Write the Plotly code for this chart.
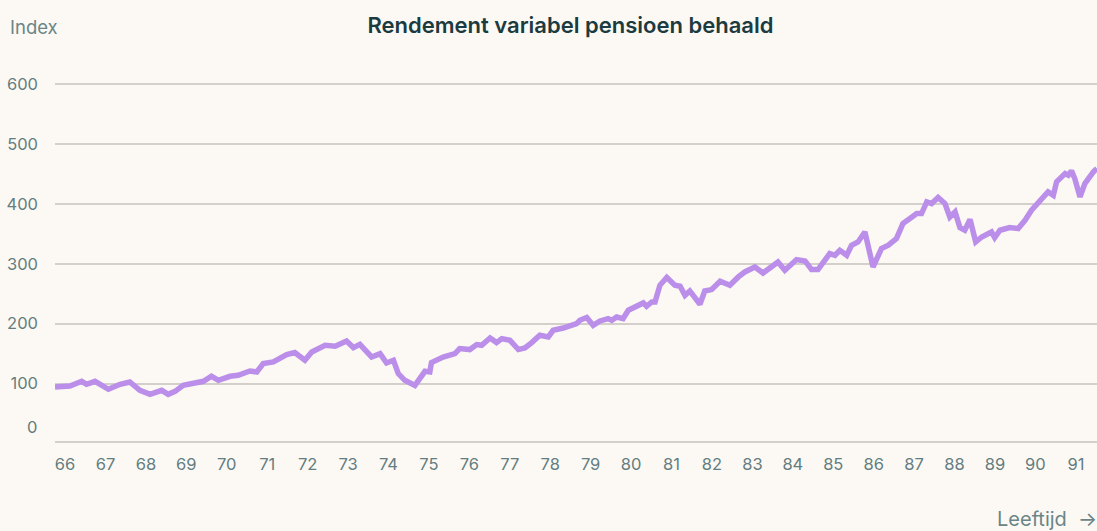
import plotly.graph_objects as go

# Age (years) and index value
age = [66.00, 66.37, 66.66, 66.78, 66.99, 67.32, 67.61, 67.85, 68.10, 68.35,
       68.64, 68.80, 68.97, 69.17, 69.67, 69.87, 70.04, 70.33, 70.53, 70.82,
       70.99, 71.15, 71.40, 71.73, 71.93, 72.18, 72.35, 72.68, 72.93, 73.21,
       73.38, 73.54, 73.83, 74.04, 74.20, 74.37, 74.49, 74.65, 74.90, 75.15,
       75.27, 75.31, 75.60, 75.89, 76.01, 76.26, 76.43, 76.55, 76.76, 76.92,
       77.05, 77.25, 77.46, 77.62, 77.79, 77.99, 78.20, 78.32, 78.57, 78.90,
       78.98, 79.15, 79.31, 79.48, 79.68, 79.77, 79.89, 80.05, 80.18, 80.38,
       80.55, 80.63, 80.76, 80.84, 80.96, 81.13, 81.33, 81.46, 81.58, 81.70,
       81.95, 82.07, 82.24, 82.45, 82.69, 82.90, 83.06, 83.31, 83.51, 83.88,
       84.05, 84.34, 84.55, 84.71, 84.87, 85.16, 85.29, 85.41, 85.58, 85.70,
       85.86, 86.03, 86.23, 86.44, 86.61, 86.81, 86.97, 87.22, 87.31, 87.43,
       87.56, 87.68, 87.84, 88.01, 88.13, 88.26, 88.38, 88.50, 88.63, 88.77,
       88.92, 89.16, 89.24, 89.37, 89.61, 89.82, 89.99, 90.15, 90.56, 90.69,
       90.77, 90.98, 91.06, 91.14, 91.22, 91.35, 91.47, 91.68, 91.77]

index_value = [94.3, 96.0, 103.8, 98.8, 103.8, 90.5, 98.8, 102.7, 88.8, 82.1,
               88.8, 82.1, 87.1, 97.2, 103.8, 112.2, 105.5, 112.2, 113.9, 121.0,
               119.4, 133.4, 136.1, 148.4, 151.8, 138.9, 152.8, 163.9, 162.3, 171.1,
               160.1, 165.6, 144.4, 150.1, 134.4, 138.9, 116.7, 105.5, 97.0, 120.5,
               119.4, 135.1, 144.4, 150.1, 158.4, 156.8, 165.1, 163.9, 176.1, 168.4,
               175.1, 172.3, 156.8, 159.4, 168.4, 180.6, 177.8, 189.0, 192.8, 200.2,
               205.7, 210.2, 197.3, 204.5, 208.5, 205.7, 211.2, 208.5, 222.4, 229.0,
               234.6, 229.0, 236.2, 236.2, 264.1, 277.0, 264.1, 262.4, 247.4, 254.6,
               232.4, 254.6, 256.9, 270.8, 264.1, 278.0, 286.3, 294.6, 284.6, 303.0,
               289.1, 307.0, 304.7, 290.3, 290.3, 317.0, 314.2, 322.5, 314.2, 330.9,
               336.4, 353.1, 294.6, 325.4, 330.9, 342.1, 367.1, 379.3, 383.8, 383.8,
               403.2, 400.5, 410.5, 400.5, 378.1, 386.5, 360.4, 355.9, 373.8, 336.4,
               344.7, 353.1, 343.7, 355.9, 360.4, 358.8, 372.6, 389.3, 419.9, 414.3,
               436.6, 450.6, 447.8, 455.0, 442.2, 411.5, 433.9, 453.3, 458.9]

x_ticks = list(range(66, 92))
y_ticks = [100, 200, 300, 400, 500, 600]
y_tick_labels = ["100", "200", "300", "400", "500", "600"]

TITLE = "Rendement variabel pensioen behaald"
Y_TITLE = "Index"
X_TITLE = "Leeftijd&nbsp;&nbsp;\u2192"

BG = "#fcf9f4"
LINE = "#bb8eea"
GRID = "#d3d0cb"
TICK = "#637d80"
FONT = "Inter"

fig = go.Figure()
fig.add_trace(go.Scatter(
    x=age, y=index_value, mode="lines",
    line=dict(color=LINE, width=5.5, shape="linear"),
    hoverinfo="skip", showlegend=False,
))

fig.update_layout(
    width=1097, height=531,
    margin=dict(l=55, r=0, t=78, b=90),
    paper_bgcolor=BG, plot_bgcolor=BG,
    font=dict(family=FONT, color=TICK, size=16),
    title=dict(text=TITLE, x=0.52, xanchor="center", y=0.953, yanchor="middle",
               font=dict(family=FONT, size=22, color="#1c3b40", weight=600)),
    xaxis=dict(range=[66, 91.77], tickvals=x_ticks, ticktext=[str(v) for v in x_ticks],
               showgrid=False, zeroline=False, showline=True, linecolor=GRID, linewidth=2,
               ticks="", ticklabelshift=10, ticklabelstandoff=7,
               tickfont=dict(family=FONT, size=16.5, color=TICK)),
    yaxis=dict(range=[4.2, 610], tickvals=y_ticks, ticktext=y_tick_labels,
               showgrid=True, gridcolor=GRID, gridwidth=1.5, zeroline=False, showline=False,
               ticks="", ticklabelstandoff=16,
               tickfont=dict(family=FONT, size=16.5, color=TICK)),
    annotations=[
        dict(text="0", xref="paper", x=0, xanchor="right", xshift=-16,
             yref="y", y=27.5, yanchor="middle", showarrow=False,
             font=dict(family=FONT, size=16.5, color=TICK)),
        dict(text=Y_TITLE, xref="paper", x=0, xanchor="left", xshift=-47,
             yref="paper", y=1.0, yshift=51, yanchor="middle", showarrow=False,
             font=dict(family=FONT, size=18.5, color="#6a8587")),
        dict(text=X_TITLE, xref="paper", x=1, xanchor="right", xshift=2,
             yref="paper", y=0, yshift=-78, yanchor="middle", showarrow=False,
             font=dict(family=FONT, size=20, color="#6a8587")),
    ],
)

fig.write_html(
    "out.html",
    config={"displayModeBar": False},
    post_script="document.documentElement.style.margin='0';document.body.style.margin='0';"
                "document.body.style.padding='0';document.body.style.overflow='hidden';"
                "document.body.style.background='" + BG + "';",
)
